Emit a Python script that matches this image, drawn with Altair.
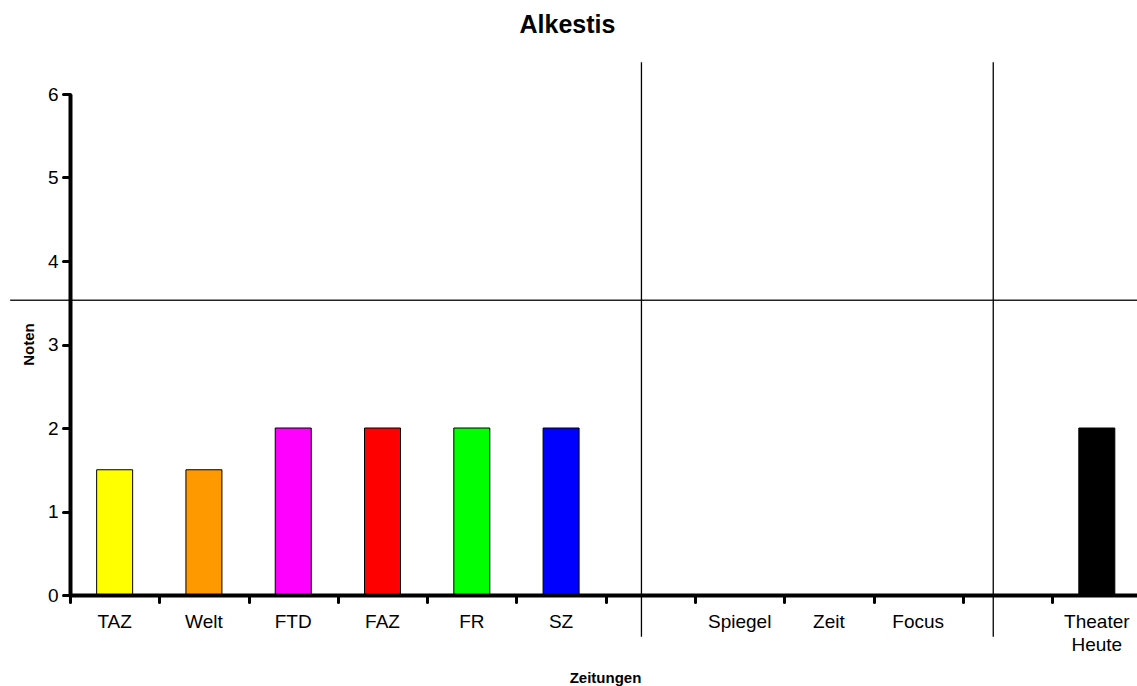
import altair as alt
import pandas as pd

# Noten der Kritiken je Zeitung (Slot-Mitte auf der x-Achse)
zeitungen = ["TAZ", "Welt", "FTD", "FAZ", "FR", "SZ", "Spiegel", "Zeit", "Focus", "Theater\nHeute"]
positionen = [0.5, 1.5, 2.5, 3.5, 4.5, 5.5, 7.5, 8.5, 9.5, 11.5]
noten = [1.5, 1.5, 2, 2, 2, 2, 0, 0, 0, 2]
farben = ["#FFFF00", "#FF9900", "#FF00FF", "#FF0000", "#00FF00",
          "#0000FF", "#FFFFFF", "#FFFFFF", "#FFFFFF", "#000000"]

# Achsenstriche an den Slot-Grenzen und Notenskala
grenzen = list(range(12))
notenskala = [0, 1, 2, 3, 4, 5, 6]

# Trennlinien zwischen Tageszeitungen, Magazinen und Fachpresse
trenn_x = [6.4, 10.34]
trenn_y_von, trenn_y_bis = -0.5, 6.38
linie_y = 3.53
linie_x_von, linie_x_bis = -0.67, 11.95
label_y = -0.395

FONT = "Liberation Sans"

df = pd.DataFrame({"zeitung": zeitungen, "pos": positionen, "note": noten, "farbe": farben})
df_trenn = pd.DataFrame({"x": trenn_x, "y": [trenn_y_von] * 2, "y2": [trenn_y_bis] * 2})
df_linie = pd.DataFrame({"x": [linie_x_von], "x2": [linie_x_bis], "y": [linie_y]})

x_scale = alt.Scale(domain=[0, 11.95], nice=False, zero=False, padding=0)
y_scale = alt.Scale(domain=[0, 6], nice=False, padding=0)

x_axis = alt.Axis(
    values=grenzen, labels=False, grid=False,
    tickSize=7, tickWidth=3, tickColor="black", tickCap="round",
    domainColor="black", domainWidth=4, zindex=1,
    title="Zeitungen", titleFont=FONT, titleFontSize=15, titleFontWeight="bold",
    titleColor="black", titleX=535, titleY=87, titleBaseline="alphabetic",
    titleAlign="center",
)
y_axis = alt.Axis(
    values=notenskala, grid=False, format="d",
    tickSize=7, tickWidth=3, tickColor="black", tickCap="round",
    domainColor="black", domainWidth=4, zindex=1,
    labelFont=FONT, labelFontSize=19, labelColor="black", labelPadding=5,
    title="Noten", titleFont=FONT, titleFontSize=15, titleFontWeight="bold",
    titleColor="black", titleX=-42, titleY=250, titleAngle=270,
    titleBaseline="middle", titleAlign="center",
)

bars = alt.Chart(df).mark_bar(size=36, stroke="black", strokeWidth=1).encode(
    x=alt.X("pos:Q", scale=x_scale, axis=x_axis),
    y=alt.Y("note:Q", scale=y_scale, axis=y_axis),
    color=alt.Color("farbe:N", scale=None),
)

labels = alt.Chart(df).mark_text(
    font=FONT, fontSize=19, color="black", baseline="alphabetic",
    lineBreak="\n", lineHeight=23,
).encode(
    x=alt.X("pos:Q", scale=x_scale, axis=x_axis),
    y=alt.datum(label_y, scale=y_scale, axis=y_axis),
    text="zeitung:N",
)

trenn = alt.Chart(df_trenn).mark_rule(color="black", strokeWidth=1.3).encode(
    x=alt.X("x:Q", scale=x_scale, axis=x_axis),
    y=alt.Y("y:Q", scale=y_scale, axis=y_axis),
    y2="y2:Q",
)

linie = alt.Chart(df_linie).mark_rule(color="#222222", strokeWidth=1.3).encode(
    x=alt.X("x:Q", scale=x_scale, axis=x_axis),
    x2="x2:Q",
    y=alt.Y("y:Q", scale=y_scale, axis=y_axis),
)

chart = alt.layer(linie, trenn, bars, labels).properties(
    width=1067,
    height=501,
    background="white",
    autosize=alt.AutoSizeParams(type="none"),
    padding={"left": 70, "top": 94, "right": 0, "bottom": 91},
    title=alt.TitleParams(
        "Alkestis", font=FONT, fontSize=25, fontWeight="bold", color="black",
        frame="group", baseline="alphabetic", offset=29, dx=-36, dy=25,
    ),
).configure_view(stroke=None)

chart.save("out.html", embed_options={"renderer": "svg", "actions": False})
